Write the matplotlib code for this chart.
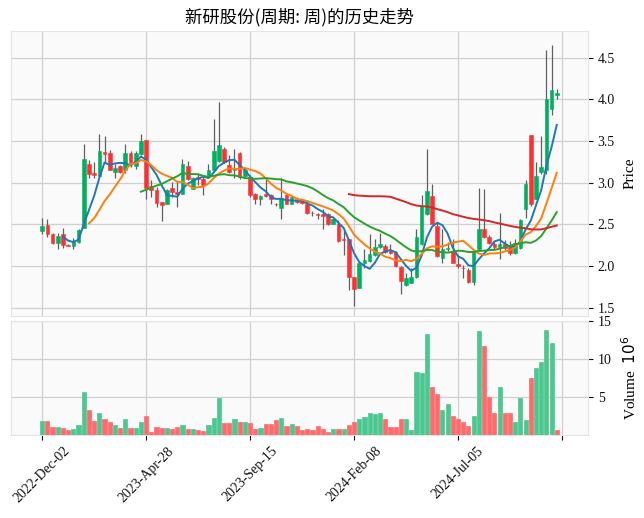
import numpy as np
import pandas as pd
import matplotlib
matplotlib.use('Agg')
import matplotlib.pyplot as plt

plt.rcParams['font.family'] = ['Liberation Serif', 'Noto Sans CJK SC', 'DejaVu Sans']
plt.rcParams['mathtext.fontset'] = 'dejavusans'
plt.rcParams['axes.unicode_minus'] = False

title = '新研股份(周期: 周)的历史走势'

# weekly OHLC (yuan)
opens = [2.42, 2.49, 2.39, 2.28, 2.38, 2.255, 2.245, 2.29, 2.46, 3.23,
         3.12, 3.08, 3.37, 3.36, 3.13, 3.20, 3.15, 3.36, 3.20, 3.35,
         3.51, 2.96, 2.91, 2.765, 2.75, 2.935, 2.89, 2.87, 3.20, 2.93,
         3.07, 3.05, 3.07, 3.15, 3.26, 3.41, 3.21, 3.15, 3.36, 3.08,
         3.065, 2.87, 2.81, 2.87, 2.85, 2.745, 2.70, 2.85, 2.75, 2.81,
         2.79, 2.745, 2.64, 2.625, 2.625, 2.63, 2.51, 2.51, 2.32, 2.325,
         1.87, 1.74, 2.03, 2.065, 2.13, 2.23, 2.24, 2.18, 2.17, 1.99,
         1.77, 1.80, 1.87, 2.26, 2.63, 2.84, 2.48, 2.10, 2.20, 2.17,
         2.025, 1.98, 1.95, 1.81, 2.21, 2.45, 2.345, 2.265, 2.23, 2.27,
         2.23, 2.16, 2.22, 2.69, 3.57, 2.81, 3.13, 3.15, 3.89, 4.05]
highs = [2.58, 2.56, 2.40, 2.40, 2.46, 2.27, 2.34, 2.45, 3.46, 3.27,
         3.25, 3.59, 3.56, 3.39, 3.22, 3.21, 3.47, 3.38, 3.38, 3.59,
         3.51, 3.03, 2.95, 2.77, 2.93, 3.01, 3.01, 3.29, 3.26, 3.065,
         3.11, 3.09, 3.22, 3.76, 3.97, 3.43, 3.33, 3.41, 3.37, 3.19,
         3.09, 2.88, 2.85, 3.05, 2.87, 2.76, 3.06, 2.86, 2.84, 2.83,
         2.80, 2.79, 2.66, 2.64, 2.69, 2.64, 2.58, 2.55, 2.43, 2.33,
         1.87, 2.03, 2.20, 2.39, 2.33, 2.40, 2.26, 2.27, 2.18, 2.00,
         1.91, 1.97, 2.45, 2.85, 3.40, 2.99, 2.53, 2.44, 2.29, 2.32,
         2.13, 2.01, 1.97, 2.19, 2.94, 2.93, 2.37, 2.29, 2.64, 2.31,
         2.30, 2.32, 2.57, 3.03, 3.57, 3.25, 3.56, 4.59, 4.65, 4.13]
lows = [2.38, 2.35, 2.26, 2.21, 2.22, 2.24, 2.20, 2.28, 2.46, 3.06,
        3.06, 3.08, 3.24, 3.15, 3.06, 3.12, 3.12, 3.19, 3.17, 3.33,
        2.80, 2.83, 2.71, 2.54, 2.74, 2.83, 2.71, 2.86, 3.03, 2.92,
        2.97, 2.85, 3.06, 3.13, 3.25, 3.24, 3.12, 3.06, 3.05, 3.07,
        2.83, 2.75, 2.73, 2.83, 2.75, 2.72, 2.57, 2.74, 2.74, 2.76,
        2.75, 2.63, 2.60, 2.57, 2.45, 2.49, 2.50, 2.29, 2.13, 1.71,
        1.52, 1.73, 1.98, 2.05, 2.12, 2.22, 2.16, 2.15, 1.99, 1.66,
        1.76, 1.79, 1.86, 2.25, 2.61, 2.50, 2.11, 2.04, 2.18, 2.03,
        1.97, 1.85, 1.80, 1.77, 2.19, 2.34, 2.26, 2.20, 2.08, 2.19,
        2.13, 2.14, 2.21, 2.58, 2.72, 2.80, 3.10, 3.11, 3.81, 4.01]
closes = [2.48, 2.39, 2.28, 2.36, 2.25, 2.245, 2.30, 2.43, 3.28, 3.10,
          3.095, 3.38, 3.35, 3.15, 3.18, 3.13, 3.36, 3.22, 3.36, 3.50,
          2.94, 2.91, 2.76, 2.735, 2.91, 2.89, 2.865, 3.23, 3.05, 3.06,
          3.05, 2.97, 3.15, 3.38, 3.45, 3.25, 3.13, 3.165, 3.065, 3.15,
          2.85, 2.81, 2.84, 2.835, 2.80, 2.74, 2.82, 2.75, 2.83, 2.77,
          2.76, 2.64, 2.632, 2.615, 2.60, 2.505, 2.565, 2.305, 2.31, 1.87,
          1.72, 2.03, 2.07, 2.14, 2.23, 2.26, 2.17, 2.16, 2.00, 1.82,
          1.86, 1.87, 2.35, 2.72, 2.90, 2.51, 2.12, 2.20, 2.22, 2.04,
          2.00, 1.972, 1.81, 2.17, 2.45, 2.35, 2.28, 2.225, 2.27, 2.22,
          2.16, 2.28, 2.55, 2.98, 2.75, 3.08, 3.19, 4.01, 4.11, 4.08]
# weekly volume, millions of shares
volume_m = [1.9, 1.9, 1.1, 1.1, 1.0, 0.75, 0.9, 1.3, 5.7, 3.4,
            1.9, 2.9, 2.2, 1.8, 1.3, 1.0, 2.1, 1.0, 1.0, 1.8,
            2.5, 0.5, 1.15, 1.0, 1.0, 0.9, 1.15, 1.35, 0.9, 0.85,
            0.75, 0.6, 1.3, 2.3, 4.9, 1.65, 1.65, 2.1, 1.8, 1.8,
            1.6, 0.85, 1.0, 1.5, 1.5, 2.0, 2.3, 1.2, 1.5, 1.2,
            0.7, 0.8, 0.7, 1.2, 0.9, 0.5, 0.8, 0.8, 0.9, 1.4,
            1.8, 2.2, 2.4, 2.9, 2.8, 2.9, 2.1, 1.1, 1.1, 2.1,
            2.2, 0.7, 8.3, 8.2, 13.3, 6.3, 5.4, 3.4, 4.1, 2.5,
            2.1, 1.8, 1.2, 2.6, 13.8, 11.7, 5.0, 3.0, 6.3, 2.9,
            2.9, 1.8, 4.9, 2.0, 7.5, 8.9, 9.6, 13.9, 12.2, 0.7]
mav_periods = [5, 10, 20, 60]
tick_idx = [0, 20, 40, 60, 80, 100]
tick_labels = ['2022-Dec-02', '2023-Apr-28', '2023-Sep-15', '2024-Feb-08', '2024-Jul-05', '']

df = pd.DataFrame({'Open': opens, 'High': highs, 'Low': lows,
                   'Close': closes, 'Volume': volume_m})
x = np.arange(len(df))

up_c, down_c = '#00b060', '#fe3032'
vup_c, vdown_c = '#4dc790', '#fd6b6c'
mav_colors = ['#1f77b4', '#ff7f0e', '#2ca02c', '#d62728']

fig = plt.figure(figsize=(6.44, 5.18), dpi=100)
ax = fig.add_axes([0.017, 0.390, 0.896, 0.550])
axv = fig.add_axes([0.017, 0.161, 0.896, 0.220], sharex=ax)

for a in (ax, axv):
    a.set_facecolor('#fafafa')
    a.grid(True, color='#d0d0d0', linewidth=0.9)
    a.set_axisbelow(True)
    for s in a.spines.values():
        s.set_color('#e4e4e4')
    a.yaxis.tick_right()
    a.yaxis.set_label_position('right')
    a.tick_params(axis='both', colors='#101010', labelsize=10, length=3.5)

# candles
up = df['Close'] >= df['Open']
body_col = np.where(up, up_c, down_c)
ax.vlines(x, df['Low'], df['High'], color='#606060', linewidth=0.9, zorder=2)
body_h = (df['Close'] - df['Open']).abs().clip(lower=0.004)
ax.bar(x, body_h, bottom=df[['Open', 'Close']].min(axis=1), width=0.7,
       color=body_col, edgecolor=body_col, linewidth=0.4, zorder=3)

for p, c in zip(mav_periods, mav_colors):
    ax.plot(x, df['Close'].rolling(p).mean(), color=c, linewidth=1.4, zorder=4)

ax.set_ylim(1.40, 4.82)
ax.set_yticks([1.5, 2.0, 2.5, 3.0, 3.5, 4.0, 4.5])
ax.set_ylabel('Price', fontsize=11, labelpad=6)
ax.tick_params(axis='x', labelbottom=False, length=0)

# volume, coloured by close vs previous close
prev = df['Close'].shift(1).fillna(df['Open'])
vcol = np.where(df['Close'] >= prev, vup_c, vdown_c)
axv.bar(x, df['Volume'], width=0.8, color=vcol, edgecolor=vcol, linewidth=0.5, zorder=3)
axv.set_ylim(0.1, 15.1)
axv.set_yticks([5, 10, 15])
axv.set_ylabel('Volume  $10^{6}$', fontsize=11, labelpad=6)

axv.set_xlim(-6, 105)
axv.set_xticks(tick_idx)
axv.set_xticklabels(tick_labels, rotation=45, ha='center')

fig.text(0.465, 0.967, title, ha='center', va='center', fontsize=12.5,
         family=['Noto Sans CJK SC', 'DejaVu Sans'])

fig.savefig('out.png', dpi=100)
